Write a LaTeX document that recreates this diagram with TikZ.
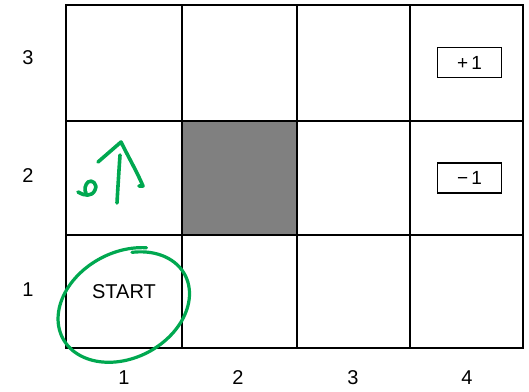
\documentclass[tikz,border=0pt]{standalone}
\usepackage{fontspec}
\setmainfont{Liberation Sans}
\definecolor{pen}{RGB}{0,168,80}
\definecolor{wall}{RGB}{128,128,128}
\begin{document}
\begin{tikzpicture}[x=1pt,y=-1pt,
  gridline/.style={line width=2pt,black},
  lbl/.style={font=\fontsize{20}{20}\selectfont,text=black,inner sep=0pt},
  rewardbox/.style={draw=black,line width=1.8pt,minimum width=64pt,minimum height=30pt,inner sep=0pt,font=\fontsize{19}{19}\selectfont},
  ink/.style={pen,line width=3.6pt,line cap=round,line join=round}]
\useasboundingbox (0,0) rectangle (529,391);
\fill[white] (0,0) rectangle (529,391);
% wall cell
\fill[wall] (182,121) rectangle (297,235);
% grid
\draw[gridline] (66,5) rectangle (523,348);
\foreach \xx in {182,297,410} \draw[gridline] (\xx,5) -- (\xx,348);
\foreach \yy in {121,235} \draw[gridline] (66,\yy) -- (523,\yy);
% row labels
\node[lbl] (r3) at (28,58) {3};
\node[lbl] (r2) at (28,176) {2};
\node[lbl] (r1) at (28,290) {1};
% column labels
\node[lbl] (c1) at (124,378) {1};
\node[lbl] (c2) at (238,378) {2};
\node[lbl] (c3) at (353,378) {3};
\node[lbl] (c4) at (467,378) {4};
% reward boxes
\node[rewardbox] (plus) at (469.5,62.5) {+\,1};
\node[rewardbox] (minus) at (469.5,178) {\textminus\,1};
% start
\node[lbl] (start) at (124,292) {START};
% green ellipse
\draw[ink,line width=3.2pt] plot[domain=0:372,samples=120,smooth]
  ({125+(1-\x/5000)*(72*cos(-50-\x)*0.883+54*sin(-50-\x)*0.469)},
   {306+(1-\x/5000)*(-72*cos(-50-\x)*0.469+54*sin(-50-\x)*0.883)});
% green arrow
\draw[ink] (117,203) .. controls (118,185) and (119,170) .. (120,155);
\draw[ink] (98,162) -- (121,142) .. controls (130,160) and (137,172) .. (143,186) -- (139,186);
% green o
\draw[ink] (78,192) .. controls (84,196) and (92,197) .. (95,190) .. controls (98,184) and (92,179) .. (88,182) .. controls (85,185) and (84,190) .. (86,193);
\end{tikzpicture}
\end{document}
